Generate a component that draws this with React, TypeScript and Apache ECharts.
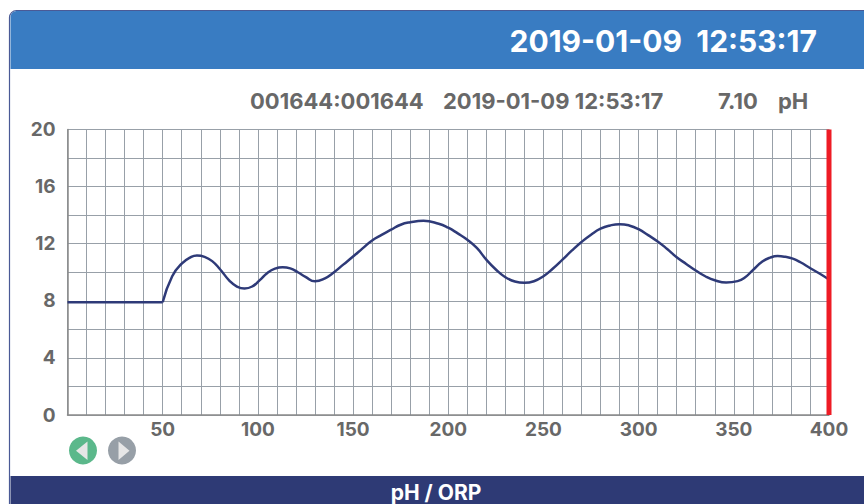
import React, { useEffect, useRef } from "react";
import * as echarts from "echarts";

const flatX = [0, 50];
const flatValues = [7.9, 7.9];
const curveX = [50, 55, 60, 65, 68, 72, 76, 80, 85, 89, 93, 97, 101, 105, 109, 113, 117, 121, 125, 130, 135, 140, 145, 150, 155, 160, 165, 170, 175, 180, 187, 195, 200, 205, 210, 215, 220, 225, 230, 235, 240, 245, 250, 255, 260, 265, 270, 275, 280, 285, 290, 295, 300, 305, 310, 315, 320, 325, 330, 335, 340, 346, 352, 356, 360, 365, 369, 373, 377, 381, 385, 390, 395, 400];
const curveValues = [7.9, 9.72, 10.6, 11.07, 11.17, 11.08, 10.78, 10.23, 9.42, 9.0, 8.86, 9.0, 9.45, 9.95, 10.25, 10.35, 10.27, 10.0, 9.68, 9.37, 9.56, 10.0, 10.55, 11.1, 11.67, 12.23, 12.62, 12.98, 13.33, 13.5, 13.6, 13.4, 13.12, 12.72, 12.28, 11.7, 10.88, 10.19, 9.65, 9.35, 9.26, 9.37, 9.72, 10.26, 10.88, 11.53, 12.12, 12.63, 13.05, 13.28, 13.37, 13.28, 13.02, 12.6, 12.16, 11.63, 11.05, 10.58, 10.12, 9.72, 9.44, 9.28, 9.38, 9.65, 10.15, 10.75, 11.02, 11.13, 11.08, 10.95, 10.7, 10.3, 9.91, 9.49];
const xTicks = [50, 100, 150, 200, 250, 300, 350, 400];
const yTicks = [0, 4, 8, 12, 16, 20];
const cursorX = 400;
const headerText = "2019-01-09  12:53:17";
const idText = "001644:001644";
const stampText = "2019-01-09 12:53:17";
const valueText = "7.10";
const unitText = "pH";
const footerText = "pH / ORP";

const FONT = "Inter, Roboto, sans-serif";

export default function App() {
  const ref = useRef<HTMLDivElement>(null);
  useEffect(() => {
    const chart = echarts.init(ref.current!, undefined, { renderer: "svg" });
    const line = { color: "#2e3a78", width: 2.5 };
    const info = (text: string, x: number) => ({
      type: "text", z: 2, x, y: 100.5,
      style: { text, fill: "#686868", font: `bold 22px ${FONT}`, align: "left", verticalAlign: "middle" },
    });
    chart.setOption({
      animation: false,
      backgroundColor: "#ffffff",
      grid: { left: 67.5, right: 35, top: 129.5, bottom: 89, containLabel: false },
      xAxis: {
        type: "value", min: 0, max: 400, interval: 10,
        axisLine: { show: true, onZero: false, lineStyle: { color: "#8a8a8a", width: 1.5 } },
        axisTick: { show: false },
        splitLine: { show: true, lineStyle: { color: "#98a0a8", width: 1 } },
        axisLabel: {
          color: "#686868", fontFamily: FONT, fontWeight: "bold", fontSize: 19, margin: 5,
          showMinLabel: true, showMaxLabel: true, hideOverlap: false,
          formatter: (v: number) => (xTicks.includes(v) ? String(v) : ""),
        },
      },
      yAxis: {
        type: "value", min: 0, max: 20, interval: 2,
        axisLine: { show: true, onZero: false, lineStyle: { color: "#8a8a8a", width: 1.5 } },
        axisTick: { show: false },
        splitLine: { show: true, lineStyle: { color: "#98a0a8", width: 1 } },
        axisLabel: {
          color: "#686868", fontFamily: FONT, fontWeight: "bold", fontSize: 19, margin: 12,
          formatter: (v: number) => (yTicks.includes(v) ? String(v) : ""),
        },
      },
      series: [
        {
          type: "line", showSymbol: false, lineStyle: line,
          data: flatX.map((x, i) => [x, flatValues[i]]), z: 3,
        },
        {
          type: "line", showSymbol: false, smooth: 0.5, lineStyle: line,
          data: curveX.map((x, i) => [x, curveValues[i]]), z: 3,
        },
        {
          type: "line", showSymbol: false,
          lineStyle: { color: "#ee1c25", width: 5, cap: "butt" },
          data: [[cursorX, 0], [cursorX, 20]], z: 4,
        },
      ],
      graphic: [
        { type: "rect", silent: true, z: 1, shape: { x: 9.5, y: 10.5, width: 900, height: 520, r: [7, 0, 0, 0] }, style: { fill: "none", stroke: "#4a5a96", lineWidth: 1.2 } },
        { type: "rect", silent: true, z: 1, shape: { x: 10.5, y: 11, width: 900, height: 58, r: [6, 0, 0, 0] }, style: { fill: "#397cc2" } },
        { type: "rect", silent: true, z: 1, shape: { x: 10.5, y: 476, width: 900, height: 28 }, style: { fill: "#2e3a75" } },
        { type: "text", z: 2, x: 817, y: 41, style: { text: headerText, fill: "#ffffff", font: `bold 30px ${FONT}`, align: "right", verticalAlign: "middle" } },
        info(idText, 250),
        info(stampText, 443),
        info(valueText, 718),
        info(unitText, 778),
        { type: "text", z: 2, x: 436, y: 492, style: { text: footerText, fill: "#ffffff", font: `bold 21px ${FONT}`, align: "center", verticalAlign: "middle" } },
        { type: "circle", z: 2, shape: { cx: 83, cy: 450.5, r: 14 }, style: { fill: "#5bb88b" } },
        { type: "polygon", z: 3, shape: { points: [[87.5, 441.5], [87.5, 460], [76, 450.7]] }, style: { fill: "#e6e6e6" } },
        { type: "circle", z: 2, shape: { cx: 122, cy: 450.5, r: 14 }, style: { fill: "#979fa7" } },
        { type: "polygon", z: 3, shape: { points: [[118.5, 441.5], [118.5, 460], [129.5, 450.7]] }, style: { fill: "#e6e6e6" } },
      ],
    });
    return () => chart.dispose();
  }, []);
  return <div ref={ref} style={{ position: "absolute", left: 0, top: 0, width: 864, height: 504, overflow: "hidden" }} />;
}
